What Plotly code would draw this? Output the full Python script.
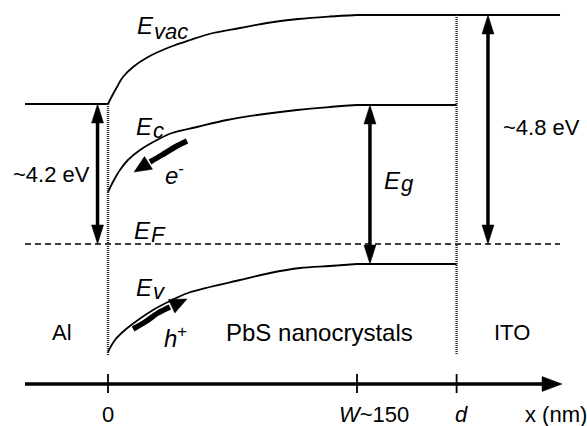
import math
import plotly.graph_objects as go

# ---------------- data (x in nm, energy in schematic units, E_F = 0) -------------
x_vac = [0, 2.4, 5.4, 9.0, 15.1, 24.1, 37.3, 49.4, 63.3, 79.5, 95.8, 114.5, 133.7, 150, 272.3]
E_vac = [14.0, 14.8, 15.7, 16.7, 17.7, 18.7, 19.7, 20.4, 21.1, 21.6, 22.1, 22.5, 22.75, 22.9, 22.9]

x_c = [0, 3.6, 7.2, 12.0, 19.3, 29.5, 38.6, 53.6, 71.7, 89.8, 113.9, 133.7, 150, 210]
E_c = [5.2, 6.4, 7.4, 8.4, 9.4, 10.4, 11.1, 11.7, 12.4, 12.9, 13.4, 13.7, 13.9, 13.9]

x_v = [0, 4.2, 10.2, 18.1, 27.1, 38.6, 48.2, 61.4, 79.5, 97.6, 115.7, 133.7, 150, 210]
E_v = [-10.8, -9.6, -8.6, -7.6, -6.6, -5.6, -4.9, -4.3, -3.6, -2.9, -2.4, -2.2, -2.0, -2.0]

x_Al = [-50, 0]
E_Al = [14.0, 14.0]
x_F = [-50, 272.3]
E_F = [0, 0]

W = 150
d = 210
interfaces = [0, d]
tick_vals = [0, W, d]
tick_text = ["0", "<i>W</i>~150", "<i>d</i>"]
tick_label_x = [0, 160.2, 212.7]

# carrier drift arrows (shaft points then tip)
e_arrow_x = [47.6, 40.4, 32.5, 25.3]
e_arrow_E = [10.3, 9.7, 8.9, 8.2]
e_tip = (15.7, 7.2)
h_arrow_x = [15.1, 22.3, 30.1, 37.3]
h_arrow_E = [-8.5, -7.8, -6.9, -6.3]
h_tip = (47.6, -5.5)

regions = ["Al", "PbS nanocrystals", "ITO"]
region_x = [-27.7, 127.7, 243.4]
region_size = [22, 24, 22]

# ---------------- layout geometry ----------------
W_PX, H_PX = 587, 426
XR = [-65.06, 288.55]
YR = [-18.2, 24.4]
SX = W_PX / (XR[1] - XR[0])
SY = H_PX / (YR[1] - YR[0])

FONT = "Liberation Sans, Arial, sans-serif"
BLACK = "#000000"

fig = go.Figure()

# band lines: curved part (spline) and flat part
def band(xs, es):
    i = xs.index(W)
    fig.add_trace(go.Scatter(x=xs[:i + 1], y=es[:i + 1], mode="lines",
                             line=dict(color=BLACK, width=1.8, shape="spline", smoothing=1.0),
                             hoverinfo="skip", showlegend=False))
    fig.add_trace(go.Scatter(x=xs[i:], y=es[i:], mode="lines",
                             line=dict(color=BLACK, width=1.8),
                             hoverinfo="skip", showlegend=False))

band(x_vac, E_vac)
band(x_c, E_c)
band(x_v, E_v)

fig.add_trace(go.Scatter(x=x_Al, y=E_Al, mode="lines", line=dict(color=BLACK, width=1.8),
                         hoverinfo="skip", showlegend=False))
fig.add_trace(go.Scatter(x=x_F, y=E_F, mode="lines",
                         line=dict(color=BLACK, width=1.5, dash="6px,4px"),
                         hoverinfo="skip", showlegend=False))

# interface dotted lines
bottom_E = -11.1
for xi, top in zip(interfaces, [E_Al[0], E_vac[-1]]):
    fig.add_shape(type="line", x0=xi, x1=xi, y0=top, y1=bottom_E,
                  line=dict(color="#2a2a2a", width=2.4, dash="1px,1px"))


def head(tip, base, length_px, half_px):
    tx, ty = tip
    bx, by = base
    vx, vy = (tx - bx) * SX, (ty - by) * SY
    n = math.hypot(vx, vy)
    ux, uy = vx / n, vy / n
    cx, cy = -ux * length_px, -uy * length_px
    px_, py_ = -uy * half_px, ux * half_px
    p1 = (tx + (cx + px_) / SX, ty + (cy + py_) / SY)
    p2 = (tx + (cx - px_) / SX, ty + (cy - py_) / SY)
    fig.add_shape(type="path",
                  path=f"M{tx},{ty} L{p1[0]},{p1[1]} L{p2[0]},{p2[1]} Z",
                  fillcolor=BLACK, line=dict(color=BLACK, width=0.5))
    return (tx - ux * length_px * 0.8 / SX, ty - uy * length_px * 0.8 / SY)


def double_arrow(x, e_top, e_bot, width=3.5, L=19, hw=6.0):
    a = head((x, e_top), (x, e_bot), L, hw)
    b = head((x, e_bot), (x, e_top), L, hw)
    fig.add_shape(type="line", x0=x, x1=x, y0=a[1], y1=b[1],
                  line=dict(color=BLACK, width=width))

double_arrow(-6.3, E_Al[0], E_F[0])
double_arrow(157.8, E_c[-1], E_v[-1])
double_arrow(228.9, E_vac[-1], E_F[0])

# curved carrier arrows
for xs, es, tip in [(e_arrow_x, e_arrow_E, e_tip), (h_arrow_x, h_arrow_E, h_tip)]:
    fig.add_trace(go.Scatter(x=xs, y=es, mode="lines",
                             line=dict(color=BLACK, width=5.5, shape="spline"),
                             hoverinfo="skip", showlegend=False))
    head(tip, (xs[-1], es[-1]), 17, 7.5)

# x axis (schematic)
axis_E = -14.0
axis_tip = 273.5
ab = head((axis_tip, axis_E), (axis_tip - 10, axis_E), 20, 7.5)
fig.add_shape(type="line", x0=-50, x1=ab[0], y0=axis_E, y1=axis_E,
              line=dict(color=BLACK, width=3.5))
for tv in tick_vals:
    fig.add_shape(type="line", x0=tv, x1=tv, y0=axis_E + 1.0, y1=axis_E - 0.9,
                  line=dict(color=BLACK, width=1.8))

ann = []


def text(x, y, s, size=22, xanchor="center"):
    ann.append(dict(x=x, y=y, xref="x", yref="y", text=s, showarrow=False,
                    xanchor=xanchor, yanchor="middle", borderpad=0,
                    font=dict(family=FONT, size=size, color=BLACK)))


# energy labels: E + subscript as separate texts
def elabel(x, y, sub, ys):
    text(x, y, "<i>E</i>", size=24, xanchor="left")
    text(x + 16.5 / SX, ys, f"<i>{sub}</i>", size=22, xanchor="left")

elabel(16.9, 21.9, "vac", 21.3)
elabel(16.3, 11.75, "c", 11.35)
elabel(15.1, 1.35, "F", 0.95)
elabel(16.3, -4.35, "v", -4.75)
elabel(165.7, 6.35, "g", 6.05)

text(33.5, 7.0, "<i>e</i><sup>-</sup>", size=24, xanchor="left")
text(33.1, -9.25, "<i>h</i><sup>+</sup>", size=24, xanchor="left")

text(-34.3, 7.0, "~4.2 eV", size=22)
text(261.1, 11.7, "~4.8 eV", size=22)

for r, rx, rs in zip(regions, region_x, region_size):
    text(rx, -8.8, r, size=rs)

for tx_, tt in zip(tick_label_x, tick_text):
    text(tx_, -17.0, tt, size=22)
text(250.6, -17.0, "x (nm)", size=22, xanchor="left")

fig.update_layout(
    width=W_PX, height=H_PX,
    margin=dict(l=0, r=0, t=0, b=0),
    paper_bgcolor="white", plot_bgcolor="white",
    xaxis=dict(range=XR, visible=False, fixedrange=True),
    yaxis=dict(range=YR, visible=False, fixedrange=True),
    annotations=ann,
    showlegend=False,
)

fig.write_html("out.html")
